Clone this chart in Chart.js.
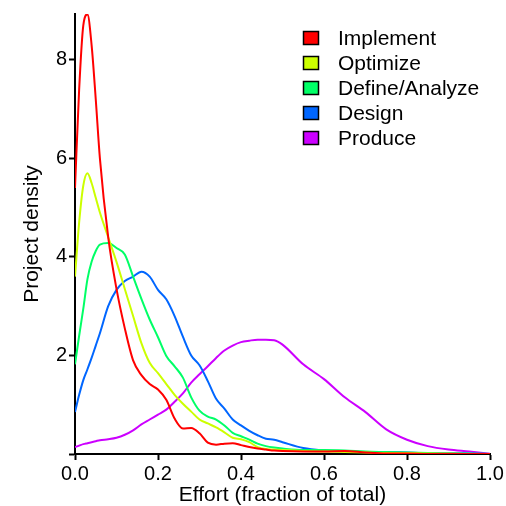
<!DOCTYPE html>
<html>
<head>
<meta charset="utf-8">
<script src="https://cdn.jsdelivr.net/npm/chart.js@4"></script>
<style>
html,body{margin:0;padding:0;background:#fff;}
#wrap{width:506px;height:506px;}
</style>
</head>
<body>
<div id="wrap"><canvas id="c" width="506" height="506"></canvas></div>
<script>
const effort = [0, 0.01, 0.02, 0.03, 0.04, 0.05, 0.06, 0.08, 0.10, 0.12, 0.14, 0.16, 0.18, 0.20, 0.22, 0.24, 0.26, 0.28, 0.30, 0.32, 0.34, 0.36, 0.38, 0.40, 0.42, 0.44, 0.46, 0.48, 0.50, 0.55, 0.60, 0.65, 0.70, 0.75, 0.80, 0.85, 0.90, 0.95, 1.00];
const seriesNames = ["Implement", "Optimize", "Define/Analyze", "Design", "Produce"];
const implement = [5.4, 7.4, 8.7, 8.92, 8.3, 7.2, 6.0, 4.4, 3.35, 2.55, 1.9, 1.6, 1.42, 1.31, 1.1, 0.72, 0.52, 0.53, 0.42, 0.23, 0.19, 0.21, 0.22, 0.18, 0.14, 0.11, 0.09, 0.07, 0.06, 0.05, 0.05, 0.06, 0.03, 0.01, 0.01, 0, 0, 0, 0];
const optimize = [3.6, 4.7, 5.45, 5.7, 5.5, 5.2, 4.9, 4.4, 3.9, 3.35, 2.8, 2.25, 1.85, 1.64, 1.42, 1.2, 1.02, 0.86, 0.7, 0.62, 0.54, 0.44, 0.33, 0.3, 0.24, 0.14, 0.1, 0.09, 0.08, 0.06, 0.05, 0.04, 0.03, 0.02, 0.02, 0.01, 0.01, 0, 0];
const defineAnalyze = [1.82, 2.4, 2.95, 3.55, 3.9, 4.12, 4.25, 4.28, 4.18, 4.05, 3.6, 3.15, 2.73, 2.37, 1.99, 1.78, 1.55, 1.15, 0.88, 0.76, 0.7, 0.58, 0.43, 0.36, 0.29, 0.21, 0.16, 0.13, 0.11, 0.08, 0.08, 0.07, 0.05, 0.04, 0.03, 0.02, 0.01, 0.01, 0];
const design = [0.85, 1.2, 1.5, 1.72, 1.95, 2.2, 2.45, 3.0, 3.33, 3.51, 3.6, 3.7, 3.6, 3.33, 3.14, 2.8, 2.38, 2.0, 1.8, 1.48, 1.12, 0.92, 0.7, 0.58, 0.47, 0.38, 0.31, 0.29, 0.24, 0.12, 0.07, 0.05, 0.04, 0.04, 0.03, 0.02, 0.02, 0.01, 0];
const produce = [0.14, 0.17, 0.2, 0.22, 0.24, 0.26, 0.28, 0.3, 0.33, 0.39, 0.48, 0.6, 0.7, 0.8, 0.9, 1.06, 1.23, 1.45, 1.62, 1.78, 1.95, 2.1, 2.2, 2.27, 2.3, 2.32, 2.32, 2.31, 2.22, 1.82, 1.52, 1.15, 0.85, 0.5, 0.29, 0.16, 0.09, 0.05, 0.005];
const colors = ["#FF0000", "#CCFF00", "#00FF66", "#0066FF", "#CC00FF"];
const xTicks = [0, 0.2, 0.4, 0.6, 0.8, 1.0];
const yTicks = [0, 2, 4, 6, 8];

const allSeries = [implement, optimize, defineAnalyze, design, produce];
const FONT = "'Liberation Sans', Arial, sans-serif";

const legendPlugin = {
  id: 'insideLegend',
  afterDatasetsDraw(chart) {
    const ctx = chart.ctx;
    ctx.save();
    ctx.font = "21px " + FONT;
    ctx.textBaseline = 'middle';
    ctx.textAlign = 'left';
    chart.data.datasets.forEach((ds, i) => {
      const top = 31 + i * 25;
      ctx.fillStyle = ds.borderColor;
      ctx.fillRect(303.5, top + 0.5, 15, 13);
      ctx.lineWidth = 1.5;
      ctx.strokeStyle = '#000';
      ctx.strokeRect(303.5, top + 0.5, 15, 13);
      ctx.fillStyle = '#000';
      ctx.fillText(ds.label, 338, top + 8);
    });
    ctx.restore();
  }
};

new Chart(document.getElementById('c'), {
  type: 'line',
  data: {
    datasets: allSeries.map((vals, i) => ({
      label: seriesNames[i],
      data: effort.map((x, j) => ({x: x, y: vals[j]})),
      borderColor: colors[i],
      backgroundColor: colors[i],
      borderWidth: 2,
      pointRadius: 0,
      cubicInterpolationMode: 'monotone',
      fill: false
    }))
  },
  options: {
    responsive: false,
    animation: false,
    layout: {padding: {top: 14, right: 16, left: 0, bottom: 0}},
    plugins: {legend: {display: false}, tooltip: {enabled: false}},
    scales: {
      x: {
        type: 'linear', min: 0, max: 1,
        afterBuildTicks(s) { s.ticks = xTicks.map(v => ({value: v})); },
        afterFit(s) { s.height = 52; },
        grid: {drawOnChartArea: false, drawTicks: true, tickLength: 6, tickWidth: 2, tickColor: '#000'},
        border: {display: true, color: '#000', width: 2},
        ticks: {color: '#000', font: {family: FONT, size: 20}, padding: 2, maxRotation: 0,
          callback: v => Number(v).toFixed(1)},
        title: {display: true, text: 'Effort (fraction of total)', color: '#000', font: {family: FONT, size: 21, lineHeight: 1.0}, padding: {top: 0, bottom: 0}}
      },
      y: {
        type: 'linear', min: 0, max: 8.93,
        afterBuildTicks(s) { s.ticks = yTicks.map(v => ({value: v})); },
        afterFit(s) { s.width = 75; },
        grid: {drawOnChartArea: false, drawTicks: true, tickLength: 6, tickWidth: 2, tickColor: '#000'},
        border: {display: true, color: '#000', width: 2},
        ticks: {color: '#000', font: {family: FONT, size: 20}, padding: 2,
          callback: v => v === 0 ? '' : String(v)},
        title: {display: true, text: 'Project density', color: '#000', font: {family: FONT, size: 21, lineHeight: 1.0}, padding: {top: 22, bottom: 0}}
      }
    }
  },
  plugins: [legendPlugin]
});
</script>
</body>
</html>
